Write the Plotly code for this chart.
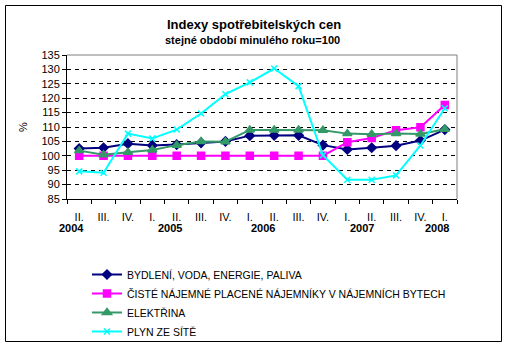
import plotly.graph_objects as go

quarters = ["II.", "III.", "IV.", "I.", "II.", "III.", "IV.", "I.", "II.", "III.", "IV.", "I.", "II.", "III.", "IV.", "I."]
years = ["2004", "2005", "2006", "2007", "2008"]
year_pos = [-0.3, 3.72, 7.53, 11.59, 14.66]

bydleni = [102.5, 102.8, 104.2, 103.6, 103.9, 104.5, 105.0, 107.0, 107.1, 107.1, 103.7, 102.2, 102.8, 103.5, 105.3, 109.1]
najemne = [100.0, 100.0, 100.0, 100.0, 100.0, 100.0, 100.0, 100.0, 100.0, 100.0, 100.0, 104.7, 106.2, 108.9, 109.9, 117.6]
elektrina = [101.8, 100.4, 101.2, 102.0, 103.7, 105.0, 104.9, 109.0, 109.0, 109.0, 108.9, 107.7, 107.5, 107.7, 107.6, 109.2]
plyn = [94.6, 94.1, 107.7, 106.0, 109.1, 114.7, 121.4, 125.5, 130.3, 124.2, 100.2, 91.7, 91.7, 93.2, 103.6, 116.5]

names = ["BYDLENÍ, VODA, ENERGIE, PALIVA",
         "ČISTÉ NÁJEMNÉ PLACENÉ NÁJEMNÍKY V NÁJEMNÍCH BYTECH",
         "ELEKTŘINA",
         "PLYN ZE SÍTĚ"]

x = list(range(len(quarters)))
FONT = "Arial, Liberation Sans, sans-serif"

fig = go.Figure()
series = [
    (bydleni, "#000080", "diamond", 7),
    (najemne, "#FF00FF", "square", 7),
    (elektrina, "#339966", "triangle-up", 8),
    (plyn, "#00FFFF", "x-thin", 6),
]
for (vals, col, sym, sz), nm in zip(series, names):
    fig.add_trace(go.Scatter(
        x=x, y=vals, name=nm, mode="lines+markers",
        line=dict(color=col, width=2),
        marker=dict(symbol=sym, size=sz, color=col, line=dict(color=col, width=1.5)),
    ))

W, H = 508, 348
ml, mr, mt, mb = 67, 51, 55, 149
pw, ph = W - ml - mr, H - mt - mb

def px(xp):
    return (xp - ml) / pw

def py(yp):
    return (H - mb - yp) / ph

fig.update_layout(
    width=W, height=H,
    margin=dict(l=ml, r=mr, t=mt, b=mb, autoexpand=False),
    paper_bgcolor="white", plot_bgcolor="white",
    font=dict(family=FONT, size=11, color="black"),
    showlegend=True,
    legend=dict(x=px(87), y=py(260), xanchor="left", yanchor="top",
                font=dict(family=FONT, size=10.5, color="black"),
                bgcolor="rgba(0,0,0,0)", tracegroupgap=0),
    xaxis=dict(range=[-0.5, 15.5], tickmode="array", tickvals=x, ticktext=quarters,
               ticks="", showgrid=False, zeroline=False, ticklabelstandoff=8,
               automargin=False,
               showline=True, linecolor="black", linewidth=1,
               tickfont=dict(family=FONT, size=11, color="black"),
               minor=dict(tickmode="array", tickvals=[i - 0.5 for i in range(17)],
                          ticks="outside", ticklen=4, tickcolor="black", showgrid=False)),
    yaxis=dict(range=[85, 135], tick0=85, dtick=5, ticks="outside", ticklen=4,
               tickcolor="black", showgrid=True, gridcolor="black", gridwidth=1,
               griddash="4px,4px", zeroline=False, automargin=False,
               showline=True, linecolor="black", linewidth=1,
               tickfont=dict(family=FONT, size=11, color="black")),
)

# plot-area border (top and right, gray)
fig.add_shape(type="line", xref="paper", yref="paper", x0=0, x1=1, y0=1, y1=1,
              line=dict(color="#808080", width=1), layer="above")
fig.add_shape(type="line", xref="paper", yref="paper", x0=1, x1=1, y0=0, y1=1,
              line=dict(color="#808080", width=1), layer="above")
# chart border
fig.add_shape(type="rect", xref="paper", yref="paper",
              x0=px(5.5), x1=px(501.5), y0=py(341.5), y1=py(5.5),
              line=dict(color="black", width=1), layer="above")

fig.add_annotation(text="<b>Indexy spotřebitelských cen</b>", xref="paper", yref="paper",
                   x=px(253.5), y=py(24), showarrow=False, xanchor="center", yanchor="middle",
                   font=dict(family=FONT, size=13, color="black"))
fig.add_annotation(text="<b>stejné období minulého roku=100</b>", xref="paper", yref="paper",
                   x=px(252), y=py(40), showarrow=False, xanchor="center", yanchor="middle",
                   font=dict(family=FONT, size=11, color="black"))
fig.add_annotation(text="%", xref="paper", yref="paper", x=px(23), y=py(127),
                   showarrow=False, textangle=-90, xanchor="center", yanchor="middle",
                   font=dict(family=FONT, size=11, color="black"))
for yr, pos in zip(years, year_pos):
    fig.add_annotation(text="<b>" + yr + "</b>", xref="x", yref="paper", x=pos, y=py(228),
                       showarrow=False, xanchor="center", yanchor="middle",
                       font=dict(family=FONT, size=11, color="black"))

fig.write_html("out.html")
